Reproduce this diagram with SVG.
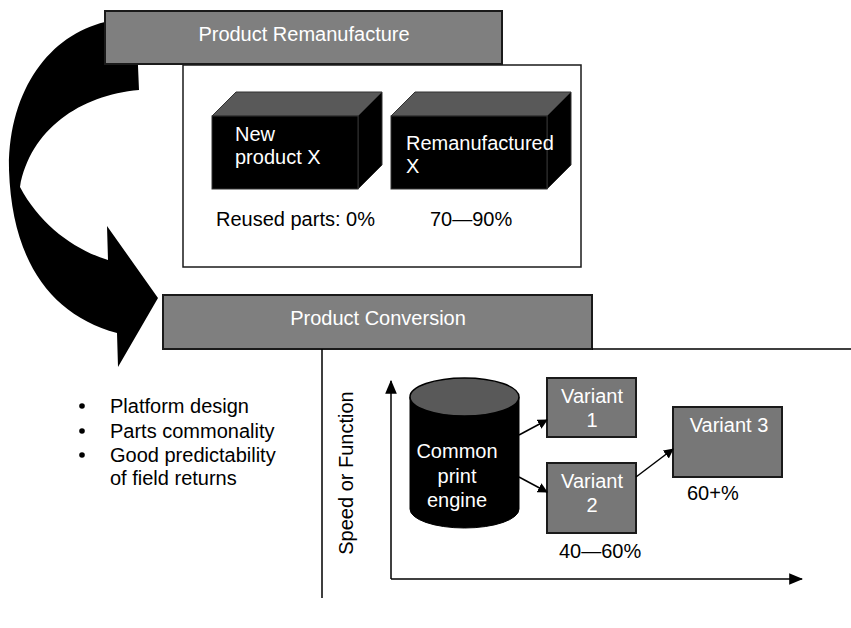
<svg xmlns="http://www.w3.org/2000/svg" width="851" height="628" viewBox="0 0 851 628">
  <style>
    text { font-family: "Liberation Sans", Arial, sans-serif; font-size: 20px; fill: #000; }
    .hdr { fill: #7f7f7f; stroke: #1a1a1a; stroke-width: 2; }
    .hdr-t { fill: #fff; text-anchor: middle; }
    .lt { fill: #fff; }
    .var { fill: #777; stroke: #1a1a1a; stroke-width: 2; }
    .var-t { fill: #fff; text-anchor: middle; }
    .panel { fill: #fff; stroke: #1a1a1a; stroke-width: 1.5; }
    .rule { stroke: #000; stroke-width: 1.5; fill: none; }
    .conn { stroke: #000; stroke-width: 1.5; fill: none; }
    .face { fill: #000; stroke: #333; stroke-width: 1; }
    .top { fill: #595959; stroke: #333; stroke-width: 1; }
  </style>
  <defs>
    <marker id="ah" viewBox="0 0 10 10" refX="9" refY="5" markerWidth="10" markerHeight="10" markerUnits="userSpaceOnUse" orient="auto">
      <path d="M0,0 L10,5 L0,10 Z" fill="#000"/>
    </marker>
    <marker id="axh" viewBox="0 0 12 10" refX="11" refY="5" markerWidth="14" markerHeight="12" markerUnits="userSpaceOnUse" orient="auto">
      <path d="M0,0 L12,5 L0,10 Z" fill="#000"/>
    </marker>
  </defs>

  <!-- big curved arrow from remanufacture to conversion -->
  <g id="cycle-arrow">
    <path d="M136,18 L139,90 C80,95 30,130 20,187 C40,225 75,250 108,260 L107,226 L158,298 L118,367 L117,333 C50,315 12,260 9,170 C8,90 50,35 105,22 Z" fill="#000"/>
  </g>

  <!-- remanufacture panel -->
  <g id="remanufacture-panel">
    <rect class="panel" x="183" y="65" width="398" height="202"/>
  </g>
  <g id="remanufacture-header">
    <rect class="hdr" x="105" y="11" width="397" height="53"/>
    <text class="hdr-t" x="304" y="41">Product Remanufacture</text>
  </g>

  <g id="new-product">
    <polygon class="top" points="212,116 236,92 382,92 358,116"/>
    <polygon class="face" points="358,116 382,92 382,165 358,189"/>
    <rect class="face" x="212" y="116" width="146" height="73"/>
    <text class="lt" x="235" y="141">New</text>
    <text class="lt" x="235" y="164">product X</text>
  </g>
  <g id="remanufactured">
    <polygon class="top" points="391,116 415,92 571,92 547,116"/>
    <polygon class="face" points="547,116 571,92 571,165 547,189"/>
    <rect class="face" x="391" y="116" width="156" height="73"/>
    <text class="lt" x="406" y="150">Remanufactured</text>
    <text class="lt" x="406" y="173">X</text>
  </g>
  <text x="216" y="226">Reused parts: 0%</text>
  <text x="430" y="226">70—90%</text>

  <!-- conversion section -->
  <g id="conversion-header">
    <rect class="hdr" x="163" y="295" width="429" height="54"/>
    <text class="hdr-t" x="378" y="325">Product Conversion</text>
  </g>
  <g id="frame">
    <path class="rule" d="M322,349 V598 M592,349 H851"/>
  </g>

  <g id="bullets">
    <circle cx="82" cy="406" r="2.8"/>
    <circle cx="82" cy="431" r="2.8"/>
    <circle cx="82" cy="455" r="2.8"/>
    <text x="110" y="413">Platform design</text>
    <text x="110" y="438">Parts commonality</text>
    <text x="110" y="462">Good predictability</text>
    <text x="110" y="485">of field returns</text>
  </g>

  <g id="axes">
    <path class="conn" d="M391,579 V381" marker-end="url(#axh)"/>
    <path class="conn" d="M391,579 H802" marker-end="url(#axh)"/>
    <text x="0" y="0" font-size="19" text-anchor="middle" transform="translate(353,473) rotate(-90)">Speed or Function</text>
  </g>

  <g id="print-engine">
    <path d="M410,397 V509 A54.5,19 0 0 0 519,509 V397 Z" fill="#000" stroke="#000" stroke-width="1"/>
    <ellipse cx="464.5" cy="397" rx="54.5" ry="19" fill="#595959" stroke="#000" stroke-width="1.5"/>
    <text class="lt" x="457" y="458" text-anchor="middle">Common</text>
    <text class="lt" x="457" y="483" text-anchor="middle">print</text>
    <text class="lt" x="457" y="507" text-anchor="middle">engine</text>
  </g>

  <g id="variant-1">
    <rect class="var" x="547" y="378" width="89" height="59"/>
    <text class="var-t" x="592" y="403">Variant</text>
    <text class="var-t" x="592" y="427">1</text>
  </g>
  <g id="variant-2">
    <rect class="var" x="547" y="463" width="89" height="70"/>
    <text class="var-t" x="592" y="488">Variant</text>
    <text class="var-t" x="592" y="512">2</text>
  </g>
  <g id="variant-3">
    <rect class="var" x="673" y="407" width="109" height="70"/>
    <text class="var-t" x="729" y="432">Variant 3</text>
  </g>
  <text x="687" y="500">60+%</text>
  <text x="559" y="558">40—60%</text>

  <g id="connectors">
    <path class="conn" d="M519,435 L547,420" marker-end="url(#ah)"/>
    <path class="conn" d="M519,477 L547,492" marker-end="url(#ah)"/>
    <path class="conn" d="M636,477 L673,449" marker-end="url(#ah)"/>
  </g>
</svg>
